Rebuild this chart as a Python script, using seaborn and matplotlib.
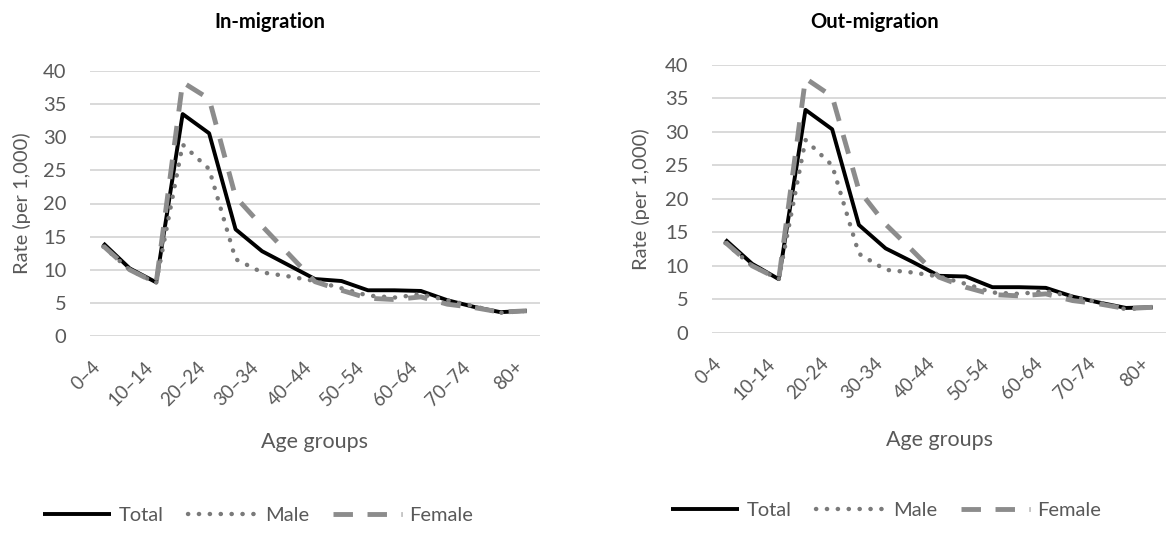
import numpy as np
import pandas as pd
import matplotlib
matplotlib.use("Agg")
import matplotlib.pyplot as plt
import seaborn as sns

age_groups_in = ["0–4", "5–9", "10–14", "15–19", "20–24", "25–29", "30–34", "35–39",
                 "40–44", "45–49", "50–54", "55–59", "60–64", "65–69", "70–74", "75–79", "80+"]
age_groups_out = ["0-4", "5-9", "10-14", "15-19", "20-24", "25-29", "30-34", "35-39",
                  "40-44", "45-49", "50-54", "55-59", "60-64", "65-69", "70-74", "75-79", "80+"]

total_in = [14.0, 10.2, 8.1, 33.5, 30.6, 16.1, 12.8, 10.7, 8.6, 8.3, 6.9, 6.9, 6.8, 5.4, 4.4, 3.6, 3.8]
male_in = [13.5, 10.0, 8.0, 28.9, 25.2, 11.6, 9.6, 9.0, 8.3, 7.2, 6.1, 5.8, 6.3, 5.4, 4.5, 3.5, 3.8]
female_in = [13.6, 10.0, 8.0, 38.3, 35.8, 21.0, 16.6, 12.4, 8.2, 6.9, 5.7, 5.5, 5.9, 4.8, 4.3, 3.6, 3.8]

total_out = [13.9, 10.3, 8.0, 33.3, 30.4, 16.1, 12.6, 10.6, 8.5, 8.4, 6.8, 6.8, 6.7, 5.4, 4.5, 3.7, 3.8]
male_out = [13.4, 10.0, 8.0, 28.8, 25.0, 11.8, 9.4, 9.0, 8.4, 7.3, 6.0, 5.8, 6.2, 5.4, 4.5, 3.5, 3.8]
female_out = [13.5, 10.0, 8.0, 38.0, 35.3, 21.3, 16.2, 12.3, 8.3, 6.8, 5.7, 5.5, 5.8, 4.8, 4.3, 3.6, 3.8]

series_names = ["Total", "Male", "Female"]
y_ticks = [0, 5, 10, 15, 20, 25, 30, 35, 40]

sns.set_theme(style="white")
plt.rcParams["font.family"] = ["Lato", "DejaVu Sans"]

TXT = "#595959"
W, H = 1169, 533
fig = plt.figure(figsize=(W / 100, H / 100), dpi=100)

def px_axes(l, t, r, b):
    return fig.add_axes([l / W, 1 - b / H, (r - l) / W, (b - t) / H])

ax_in = px_axes(90, 71, 540, 336)
ax_out = px_axes(712, 65, 1166, 332.7)

styles = {
    "Total": dict(color="black", lw=2.8, linestyle="-", solid_capstyle="butt"),
    "Male": dict(color="#7a7a7a", lw=3.2, linestyle=(0, (0.05, 2.4)), dash_capstyle="round"),
    "Female": dict(color="#8c8c8c", lw=3.5, linestyle=(0, (4.0, 3.0)), dash_capstyle="butt"),
}

def draw(ax, labels, tot, male, fem, title, title_x, ylabel_x):
    pos = np.arange(len(labels))
    for name, vals in zip(series_names, [tot, male, fem]):
        df = pd.DataFrame({"pos": pos, "rate": vals})
        sns.lineplot(data=df, x="pos", y="rate", ax=ax, label=name, legend=False,
                     sort=False, **styles[name])
    ax.set_xlim(-0.5, len(labels) - 0.5)
    ax.set_ylim(0, 40)
    ax.set_yticks(y_ticks)
    ax.set_yticklabels([str(v) for v in y_ticks], color=TXT, fontsize=14.5)
    ax.set_xticks(pos[::2])
    ax.set_xticklabels(labels[::2], rotation=45, ha="right", va="top",
                       rotation_mode="default", color=TXT, fontsize=13.5)
    ax.tick_params(axis="x", length=0, pad=16)
    ax.tick_params(axis="y", length=0, pad=17)
    ax.grid(axis="y", color="#d9d9d9", lw=1.4)
    ax.grid(axis="x", visible=False)
    ax.set_axisbelow(True)
    for s in ax.spines.values():
        s.set_visible(False)
    ax.set_xlabel("Age groups", color=TXT, fontsize=15.5)
    ax.xaxis.set_label_coords(0.5, -0.40)
    ax.xaxis.label.set_va("center")
    ax.set_ylabel("Rate (per 1,000)", color=TXT, fontsize=14.5)
    ax.yaxis.set_label_coords(ylabel_x, 0.5)
    ax.yaxis.label.set_va("center")
    fig.text(title_x / W, 1 - 22 / H, title, ha="center", va="center",
             fontsize=14.5, fontweight="bold", color="black")

draw(ax_in, age_groups_in, total_in, male_in, female_in, "In-migration", 270, (21.5 - 90) / 450)
draw(ax_out, age_groups_out, total_out, male_out, female_out, "Out-migration", 875, (641 - 712) / 454)

for ax, cx, cy in [(ax_in, 258, 515), (ax_out, 886, 510)]:
    handles = ax.get_lines()[:3]
    fig.legend(handles, series_names, loc="center", bbox_to_anchor=(cx / W, 1 - cy / H),
               ncol=3, frameon=False, handlelength=3.4, handletextpad=0.4,
               columnspacing=1.2, fontsize=14.5, labelcolor=TXT)

fig.savefig("out.png", dpi=100)
